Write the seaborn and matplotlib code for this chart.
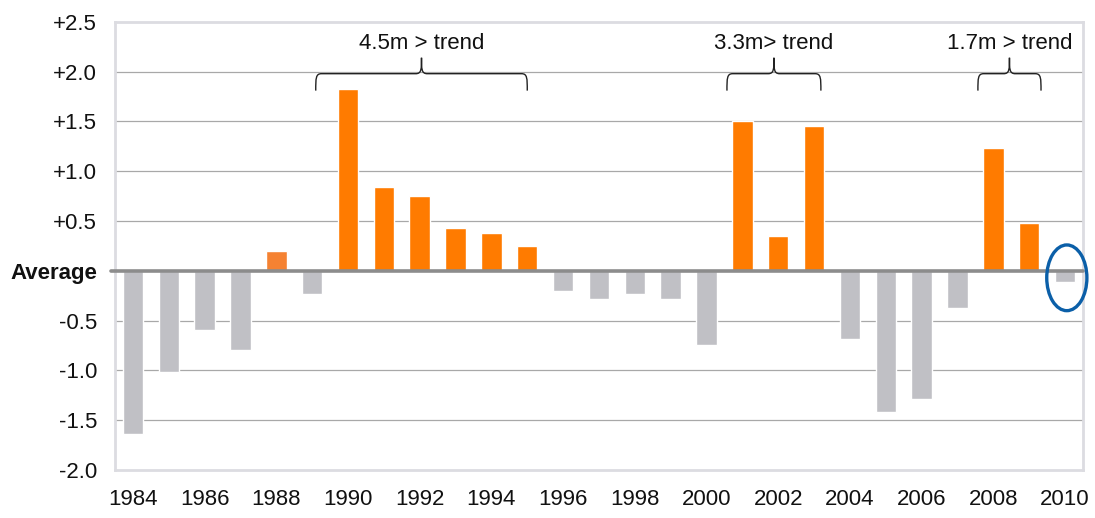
import matplotlib
matplotlib.use("Agg")
import matplotlib.pyplot as plt
from matplotlib.path import Path
from matplotlib.patches import PathPatch, Ellipse
import seaborn as sns
import pandas as pd

# Annual deviation from the long-run average
years = list(range(1984, 2011))
values = [-1.64, -1.02, -0.59, -0.80, 0.20, -0.23, 1.83, 0.84, 0.75, 0.43,
          0.38, 0.25, -0.20, -0.28, -0.23, -0.28, -0.74, 1.50, 0.35, 1.45,
          -0.68, -1.42, -1.29, -0.37, 1.23, 0.48, -0.11]

y_ticks = [2.5, 2.0, 1.5, 1.0, 0.5, 0.0, -0.5, -1.0, -1.5, -2.0]
y_tick_labels = ["+2.5", "+2.0", "+1.5", "+1.0", "+0.5", "Average",
                 "-0.5", "-1.0", "-1.5", "-2.0"]

# Above-trend runs: (first year, last year, label)
runs = [(1989.1, 1995.0, "4.5m > trend"),
        (2000.57, 2003.19, "3.3m> trend"),
        (2007.57, 2009.33, "1.7m > trend")]

ORANGE = "#FF7B00"
ORANGE_SOFT = "#F58232"
GREY = "#C0C0C5"

sns.set_theme(style="white")
plt.rcParams["font.family"] = ["Liberation Sans", "DejaVu Sans"]

df = pd.DataFrame({"year": [str(y) for y in years], "value": values})
palette = {}
for y, v in zip(df["year"], values):
    if v < 0:
        palette[y] = GREY
    else:
        palette[y] = ORANGE_SOFT if y == "1988" else ORANGE

fig = plt.figure(figsize=(10.95, 5.18), dpi=100)
ax = fig.add_axes([0.105, 0.0927, 0.884, 0.865])

sns.barplot(data=df, x="year", y="value", hue="year", palette=palette,
            legend=False, width=0.57, saturation=1, ax=ax, zorder=3)

ax.set_xlim(-0.5, len(years) - 0.5)
ax.set_ylim(-2.0, 2.5)

# horizontal gridlines (the zero line is drawn separately)
for t in y_ticks:
    if t not in (0.0, 2.5, -2.0):
        ax.axhline(t, color="#A8A8A8", lw=0.9, zorder=1)
ax.axhline(0, color="#8C8C8C", lw=2.6, zorder=4, xmin=-0.004, clip_on=False)

ax.set_yticks(y_ticks)
ax.set_yticklabels(y_tick_labels)
for lab in ax.get_yticklabels():
    lab.set_fontsize(16)
    lab.set_color("#111111")
    if lab.get_text() == "Average":
        lab.set_fontweight("bold")

idx = list(range(0, len(years), 2))
ax.set_xticks(idx)
ax.set_xticklabels([str(years[i]) for i in idx], fontsize=16, color="#111111")
ax.tick_params(axis="y", length=0, pad=13)
ax.tick_params(axis="x", length=0, pad=14)
ax.set_xlabel("")
ax.set_ylabel("")

for sp in ax.spines.values():
    sp.set_visible(True)
    sp.set_color("#DCDCE1")
    sp.set_linewidth(2.0)


def draw_brace(ax, x0, x1, y_end, y_body, y_tip, text):
    """Curly brace opening downward, tip pointing up, with a label above."""
    xm = (x0 + x1) / 2
    rx = 0.16
    ry = 0.045
    verts = [
        (x0, y_end),
        (x0, y_body - ry), (x0, y_body), (x0 + rx, y_body),
        (xm - rx, y_body),
        (xm, y_body), (xm, y_body + ry), (xm, y_tip),
        (xm, y_body + ry), (xm, y_body), (xm + rx, y_body),
        (x1 - rx, y_body),
        (x1, y_body), (x1, y_body - ry), (x1, y_end),
    ]
    codes = [Path.MOVETO,
             Path.CURVE4, Path.CURVE4, Path.CURVE4,
             Path.LINETO,
             Path.CURVE4, Path.CURVE4, Path.CURVE4,
             Path.CURVE4, Path.CURVE4, Path.CURVE4,
             Path.LINETO,
             Path.CURVE4, Path.CURVE4, Path.CURVE4]
    ax.add_patch(PathPatch(Path(verts, codes), fill=False, lw=1.0,
                           edgecolor="#222222", zorder=5, clip_on=False))
    ax.text(xm, y_tip + 0.04, text, ha="center", va="bottom", fontsize=16,
            color="#111111", zorder=5)


for start, end, label in runs:
    draw_brace(ax, start - years[0], end - years[0], 1.81, 1.98, 2.14, label)

# highlight the latest year
ax.add_patch(Ellipse((len(years) - 1 + 0.05, -0.07), 1.12, 0.66, fill=False,
                     edgecolor="#0B5FA8", lw=2.4, zorder=6, clip_on=False))

fig.savefig("out.png", dpi=100, facecolor="white")
